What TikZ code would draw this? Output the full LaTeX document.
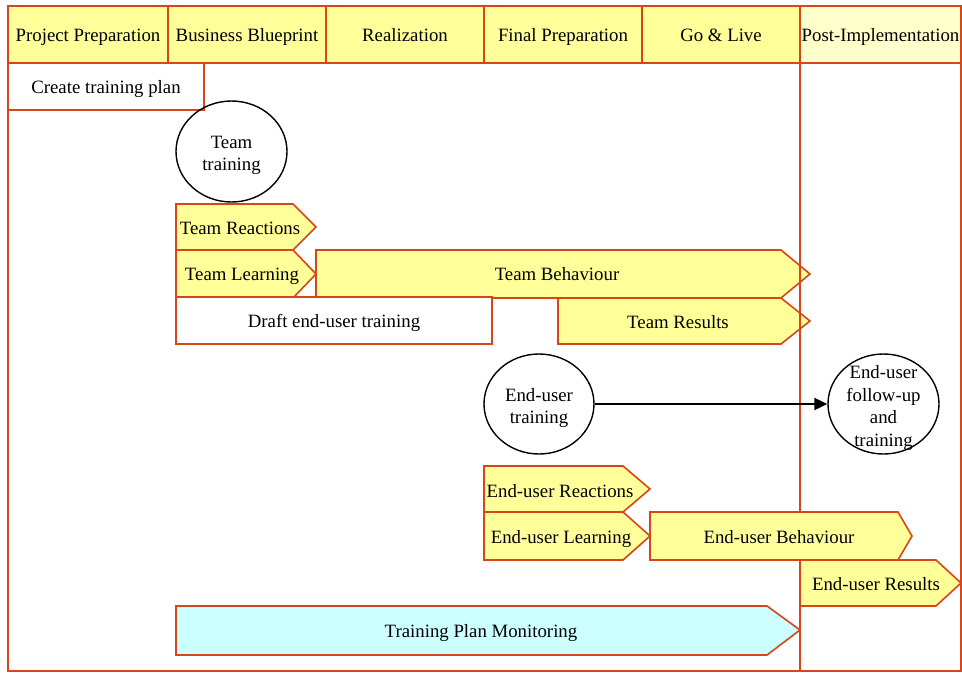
\documentclass[tikz,border=0pt]{standalone}
\usepackage{fontspec}
\setmainfont{Liberation Serif}
\usetikzlibrary{shapes.geometric,arrows.meta}
\definecolor{brd}{HTML}{D6461A}
\definecolor{phase}{HTML}{FFFF99}
\definecolor{post}{HTML}{FFFFCC}
\definecolor{monitor}{HTML}{CCFFFF}
\tikzset{
  phasecell/.style={draw=brd, line width=1.6pt, fill=phase, minimum height=57pt, minimum width=158pt, inner sep=0pt, text height=14.6pt, text depth=0pt},
  taskbox/.style={draw=brd, line width=1.6pt, fill=white, minimum height=47pt, inner sep=0pt, text height=14pt, text depth=0pt},
  stagebox/.style={draw=brd, line width=1.6pt, fill=phase, line join=miter},
  lbl/.style={inner sep=0pt, text height=12.6pt, text depth=0pt},
  event/.style={draw=black, line width=1.4pt, ellipse, inner sep=0pt},
  evtext/.style={inner sep=0pt, align=center}
}
\begin{document}
\begin{tikzpicture}[x=1pt, y=-1pt, font=\fontsize{18.8}{22.7}\selectfont]
  \useasboundingbox (0,0) rectangle (962,673);
  \draw[brd, line width=1.6pt] (8,6) rectangle (961,671);
  % phases
  \node[phasecell, minimum width=160pt] (pp) at (88,34.5) {Project Preparation};
  \node[phasecell] (bb) at (247,34.5) {Business Blueprint};
  \node[phasecell] (rl) at (405,34.5) {Realization};
  \node[phasecell] (fp) at (563,34.5) {Final Preparation};
  \node[phasecell] (gl) at (721,34.5) {Go \& Live};
  \node[phasecell, fill=post, minimum width=161pt] (pi) at (880.5,34.5) {Post-Implementation};
  \node[taskbox, minimum width=196pt] (ctp) at (106,86.5) {Create training plan};
  \node[event, minimum width=111pt, minimum height=101pt] (tt) at (231.5,151.5) {};
  \node[evtext] (tttext) at (231.5,155.5) {Team\\training};
  % team levels
  \draw[stagebox] (176,204) -- (293,204) -- (316,227) -- (293,250) -- (176,250) -- cycle;
  \node[lbl] (treact) at (240,228) {Team Reactions};
  \draw[stagebox] (176,250) -- (293,250) -- (316,274) -- (293,298) -- (176,298) -- cycle;
  \node[lbl] (tlearn) at (242,274) {Team Learning};
  \draw[stagebox] (316,250) -- (781,250) -- (810,274) -- (781,298) -- (316,298) -- cycle;
  \node[lbl] (tbehav) at (557,274) {Team Behaviour};
  \node[taskbox, minimum width=316pt] (deut) at (334,320.5) {Draft end-user training};
  \draw[stagebox] (558,298) -- (781,298) -- (810,321) -- (781,344) -- (558,344) -- cycle;
  \node[lbl] (tres) at (678,322) {Team Results};
  \draw[brd, line width=2.6pt] (800,63) -- (800,671);
  % end-user levels
  \node[event, minimum width=110pt, minimum height=100pt] (eut) at (539,404) {};
  \node[evtext] (euttext) at (539,408) {End-user\\training};
  \node[event, minimum width=111pt, minimum height=100pt] (fut) at (883.5,404) {};
  \node[evtext] (futtext) at (883.5,408) {End-user\\follow-up\\and\\training};
  \draw[line width=2.2pt, -{Triangle[length=13pt,width=12pt]}] (eut) -- (fut);
  \draw[stagebox] (484,466) -- (623,466) -- (650,489) -- (623,512) -- (484,512) -- cycle;
  \node[lbl] (ereact) at (560,491) {End-user Reactions};
  \draw[stagebox] (484,512) -- (623,512) -- (650,536) -- (623,560) -- (484,560) -- cycle;
  \node[lbl] (elearn) at (561,537) {End-user Learning};
  \draw[stagebox] (650,512) -- (898,512) -- (912,536) -- (898,560) -- (650,560) -- cycle;
  \node[lbl] (ebehav) at (779,537) {End-user Behaviour};
  \draw[stagebox] (800,560) -- (936,560) -- (961,583) -- (936,606) -- (800,606) -- cycle;
  \node[lbl] (eres) at (876,584.5) {End-user Results};
  \draw[stagebox, fill=monitor] (176,606) -- (767,606) -- (800,630) -- (767,655) -- (176,655) -- cycle;
  \node[lbl] (tpm) at (481,631) {Training Plan Monitoring};
\end{tikzpicture}
\end{document}
